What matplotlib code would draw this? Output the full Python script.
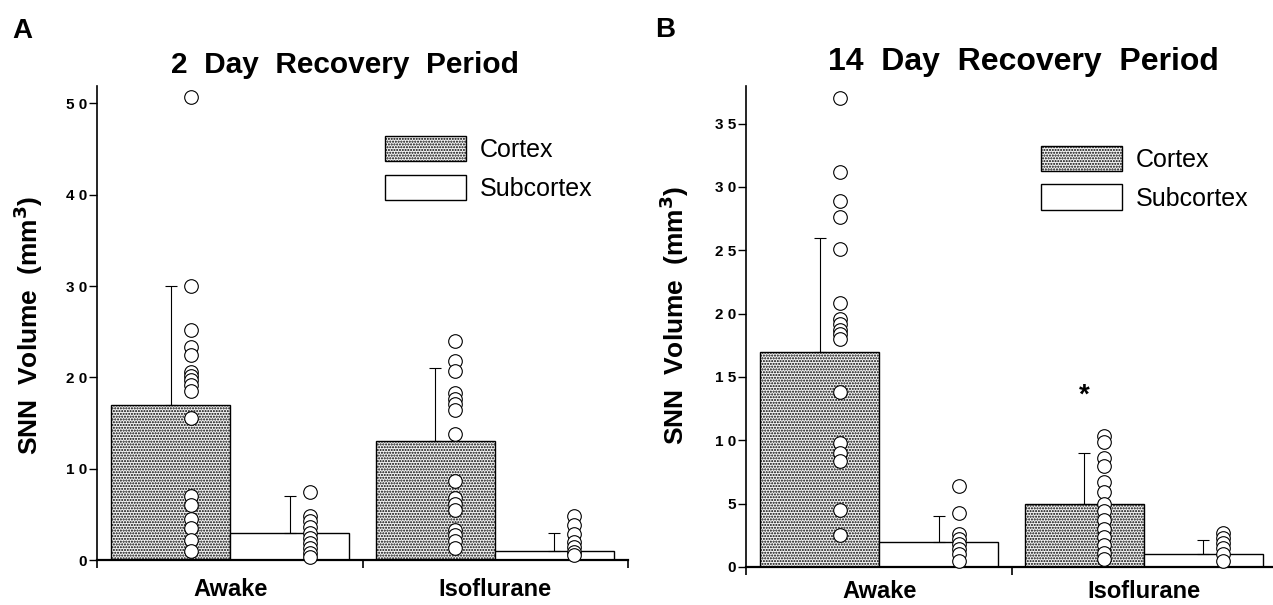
import numpy as np
import matplotlib
matplotlib.use('Agg')
import matplotlib.pyplot as plt

plt.rcParams['font.family'] = ['Liberation Sans', 'DejaVu Sans']
plt.rcParams['hatch.linewidth'] = 1.0

groups = ['Awake', 'Isoflurane']
series = ['Cortex', 'Subcortex']

# Panel A: 2 day recovery
a_mean = {'Cortex': [17.0, 13.0], 'Subcortex': [3.0, 1.0]}
a_err = {'Cortex': [13.0, 8.0], 'Subcortex': [4.0, 2.0]}
a_awake_cortex = [50.7, 30.0, 25.2, 23.3, 22.4, 20.6, 20.2, 19.7, 19.2, 18.5,
                  15.6, 7.0, 6.0, 4.5, 3.5, 2.2, 1.0]
a_awake_sub = [7.5, 4.8, 4.3, 3.6, 3.0, 2.4, 1.9, 1.3, 0.8, 0.3]
a_iso_cortex = [24.0, 21.8, 20.7, 18.3, 17.6, 17.1, 16.4, 13.8, 8.7, 6.8,
                6.1, 5.5, 3.3, 2.7, 2.1, 1.3]
a_iso_sub = [4.8, 3.8, 2.8, 2.0, 1.4, 0.9, 0.5]

# Panel B: 14 day recovery
b_mean = {'Cortex': [17.0, 5.0], 'Subcortex': [2.0, 1.0]}
b_err = {'Cortex': [9.0, 4.0], 'Subcortex': [2.0, 1.1]}
b_awake_cortex = [37.0, 31.2, 28.9, 27.6, 25.1, 20.8, 19.6, 19.2, 18.7, 18.4,
                  18.0, 13.8, 9.8, 9.0, 8.4, 4.5, 2.5]
b_awake_sub = [6.4, 4.3, 2.6, 2.2, 1.8, 1.4, 1.0, 0.5]
b_iso_cortex = [10.3, 9.9, 8.6, 8.0, 6.7, 5.9, 5.0, 4.4, 3.7, 3.0, 2.4, 1.7,
                1.1, 0.6]
b_iso_sub = [2.7, 2.3, 1.9, 1.5, 1.0, 0.5]

a_yticks = [0, 10, 20, 30, 40, 50]
b_yticks = [0, 5, 10, 15, 20, 25, 30, 35]

W, H = 1273, 605
fig = plt.figure(figsize=(W / 100, H / 100), dpi=100)


def draw_panel(ax, means, errs, points, yticks, ytop, leg_xy, xpad):
    centers = np.array([1.12, 3.34])
    styles = {'Cortex': dict(facecolor='#f4f4f4', hatch='......'),
              'Subcortex': dict(facecolor='white')}
    shifts = {'Cortex': -0.5, 'Subcortex': 0.5}
    handles = []
    for s in series:
        xs = centers + shifts[s]
        b = ax.bar(xs, means[s], width=1.0, edgecolor='black', linewidth=1.0,
                   zorder=2, label=s, **styles[s])
        handles.append(b)
        ax.errorbar(xs, means[s], yerr=[np.zeros(2), errs[s]], fmt='none',
                    ecolor='black', elinewidth=0.8, capsize=4, capthick=0.8,
                    zorder=3)
        for i, g in enumerate(groups):
            vals = points[(g, s)]
            ax.plot(np.full(len(vals), xs[i] + 0.17), vals, 'o', ms=9.8,
                    mfc='white', mec='black', mew=0.8, zorder=4,
                    clip_on=False)

    ax.set_xlim(0, 4.46)
    ax.set_ylim(0, ytop)
    for sp in ['top', 'right']:
        ax.spines[sp].set_visible(False)
    ax.spines['left'].set_linewidth(1.2)
    ax.spines['bottom'].set_linewidth(1.6)

    ax.set_yticks(yticks)
    ax.set_yticklabels([' '.join(str(v)) for v in yticks],
                       fontsize=11, fontweight='bold')
    ax.tick_params(axis='y', length=6, width=1.0, pad=1)

    ax.set_xticks(centers)
    ax.set_xticklabels(groups, fontsize=17, fontweight='bold')
    ax.tick_params(axis='x', which='major', length=0, pad=xpad)
    ax.set_xticks([0, 2.23, 4.46], minor=True)
    ax.tick_params(axis='x', which='minor', length=6, width=1.2)

    ax.legend(handles=handles, labels=series, loc='upper left',
              bbox_to_anchor=leg_xy, frameon=False, fontsize=18,
              handlelength=3.25, handleheight=1.2, labelspacing=0.5,
              handletextpad=0.55, borderpad=0, borderaxespad=0)


axA = fig.add_axes([97 / W, (H - 560) / H, 531 / W, 474 / H])
draw_panel(axA, a_mean, a_err,
           {('Awake', 'Cortex'): a_awake_cortex,
            ('Awake', 'Subcortex'): a_awake_sub,
            ('Isoflurane', 'Cortex'): a_iso_cortex,
            ('Isoflurane', 'Subcortex'): a_iso_sub},
           a_yticks, 51.9, (0.542, 0.895), 13)

axB = fig.add_axes([746 / W, (H - 567) / H, 531 / W, 481 / H])
draw_panel(axB, b_mean, b_err,
           {('Awake', 'Cortex'): b_awake_cortex,
            ('Awake', 'Subcortex'): b_awake_sub,
            ('Isoflurane', 'Cortex'): b_iso_cortex,
            ('Isoflurane', 'Subcortex'): b_iso_sub},
           b_yticks, 37.96, (0.556, 0.876), 9)
axB.text(3.34 - 0.5, 13.0, '*', ha='center', va='baseline',
         fontsize=20, fontweight='bold')

fig.text(12 / W, 1 - 38 / H, 'A', fontsize=20, fontweight='bold', va='baseline')
fig.text(655 / W, 1 - 37 / H, 'B', fontsize=20, fontweight='bold', va='baseline')
fig.text(345 / W, 1 - 73 / H, '2  Day  Recovery  Period', fontsize=21.5,
         fontweight='bold', ha='center', va='baseline')
fig.text(1023 / W, 1 - 70 / H, '14  Day  Recovery  Period', fontsize=23,
         fontweight='bold', ha='center', va='baseline')
fig.text(28 / W, 1 - 325 / H, 'SNN  Volume  (mm$^\\mathbf{3}$)', rotation=90,
         fontsize=19, fontweight='bold', ha='center', va='center')
fig.text(674 / W, 1 - 315 / H, 'SNN  Volume  (mm$^\\mathbf{3}$)', rotation=90,
         fontsize=19, fontweight='bold', ha='center', va='center')

fig.savefig('out.png', dpi=100)
